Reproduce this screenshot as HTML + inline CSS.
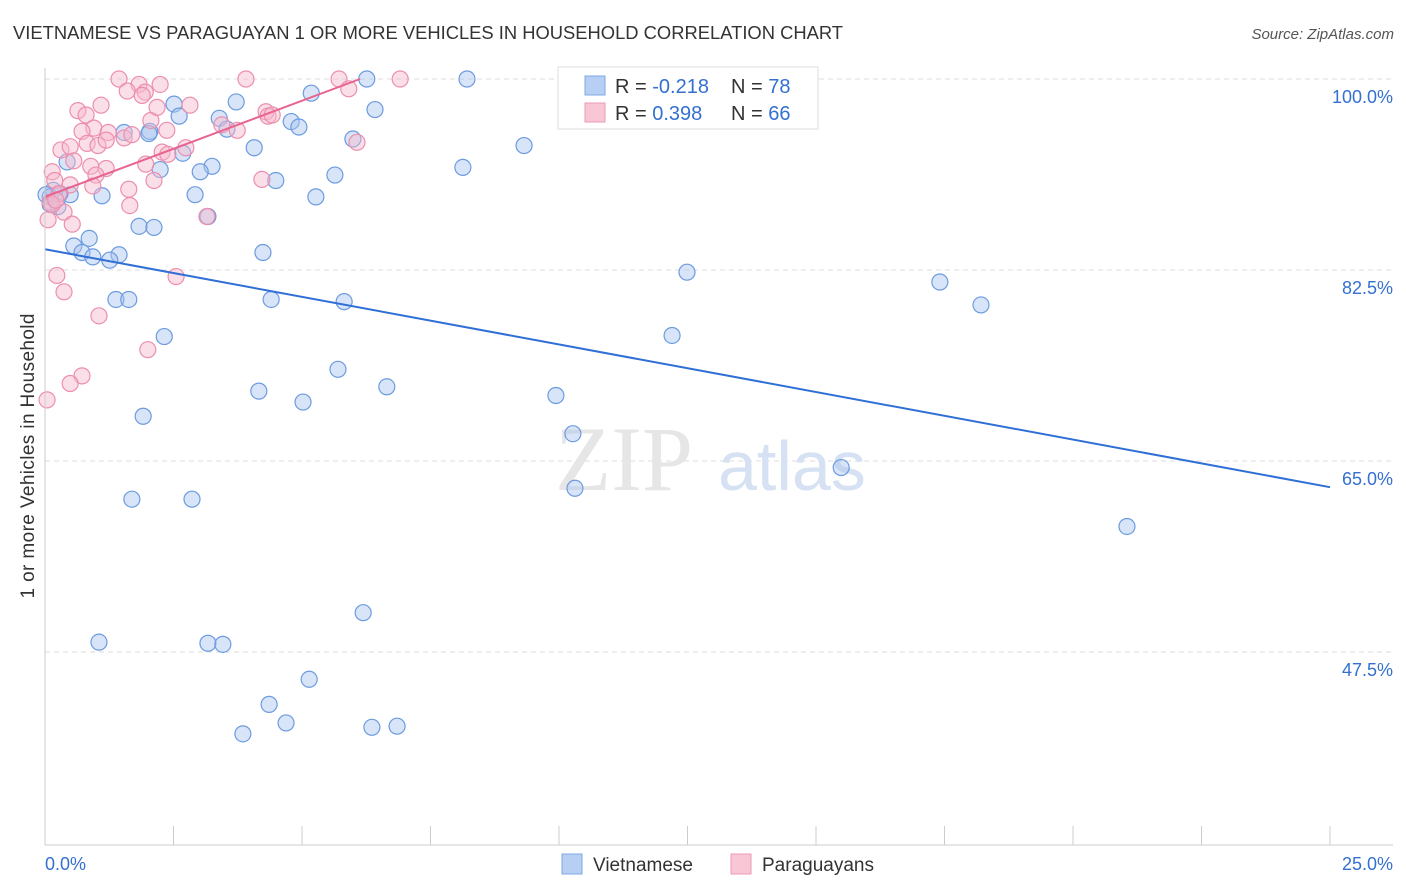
<!DOCTYPE html>
<html><head><meta charset="utf-8"><style>
body{margin:0;background:#fff;font-family:"Liberation Sans",sans-serif;}
svg{display:block}
</style></head><body>
<svg id="chart" width="1406" height="892" xmlns="http://www.w3.org/2000/svg">
<text x="13" y="39" font-size="18" fill="#333" textLength="830" lengthAdjust="spacingAndGlyphs">VIETNAMESE VS PARAGUAYAN 1 OR MORE VEHICLES IN HOUSEHOLD CORRELATION CHART</text>
<text x="1394" y="39" font-size="15" fill="#555" text-anchor="end" font-style="italic">Source: ZipAtlas.com</text>
<g id="grid"></g>
<text x="555" y="490" font-size="92" fill="#e6e6e6" font-family="Liberation Serif">ZIP</text>
<text x="718" y="490" font-size="70" fill="#d6e2f3">atlas</text>
<g id="points"></g>
<g id="lines"></g>
<g id="axes"></g>
<text transform="translate(34,456) rotate(-90)" font-size="19" fill="#333" text-anchor="middle" textLength="285">1 or more Vehicles in Household</text>
<g>
<rect x="558" y="67" width="260" height="62" fill="#fff" stroke="#ddd"/>
<rect x="585" y="76" width="20" height="19" fill="#b7cff3" stroke="#7fa7e6"/>
<rect x="585" y="103" width="20" height="19" fill="#f9c6d5" stroke="#ec9ab5"/>
<text x="615" y="93" font-size="20" fill="#333">R = <tspan fill="#3570d0">-0.218</tspan></text>
<text x="731" y="93" font-size="20" fill="#333">N = <tspan fill="#3570d0">78</tspan></text>
<text x="615" y="120" font-size="20" fill="#333">R = <tspan fill="#3570d0"> 0.398</tspan></text>
<text x="731" y="120" font-size="20" fill="#333">N = <tspan fill="#3570d0">66</tspan></text>
</g>
<g>
<rect x="562" y="854" width="20" height="20" fill="#b7cff3" stroke="#7fa7e6"/>
<text x="593" y="871" font-size="19" fill="#333">Vietnamese</text>
<rect x="731" y="854" width="20" height="20" fill="#f9c6d5" stroke="#ec9ab5"/>
<text x="762" y="871" font-size="19" fill="#333">Paraguayans</text>
</g>
</svg>
<script>
const yTicks=[100,82.5,65,47.5];
const yTickLabels=["100.0%","82.5%","65.0%","47.5%"];
const xTickLabels=["0.0%","25.0%"];
const blueX=[6.26,8.21,5.18,3.72,2.51,2.61,6.42,3.39,4.79,4.94,3.54,1.54,2.04,2.02,4.07,5.99,9.32,2.68,0.43,3.25,2.24,3.02,8.13,4.49,5.64,2.92,5.27,1.11,0.49,0.16,0.10,0.25,3.17,1.83,2.12,0.86,0.56,0.72,0.93,1.44,1.26,4.24,12.49,17.41,18.21,1.38,1.63,4.40,5.82,2.32,12.20,5.70,6.65,4.16,9.94,5.02,1.91,10.27,15.49,1.69,2.86,10.31,21.05,6.19,1.05,3.17,3.46,5.14,4.36,4.69,6.36,6.85,3.85,0.02,0.29,0.10];
const blueY=[100,100,98.7,97.9,97.7,96.6,97.2,96.4,96.1,95.6,95.4,95.1,95.2,95.0,93.7,94.5,93.9,93.2,92.4,92.0,91.7,91.5,91.9,90.7,91.2,89.4,89.2,89.3,89.4,89.8,89.2,88.3,87.4,86.5,86.4,85.4,84.7,84.1,83.7,83.9,83.4,84.1,82.3,81.4,79.3,79.8,79.8,79.8,79.6,76.4,76.5,73.4,71.8,71.4,71.0,70.4,69.1,67.5,64.4,61.5,61.5,62.5,59.0,51.1,48.4,48.3,48.2,45.0,42.7,41.0,40.6,40.7,40.0,89.4,89.5,88.5];
const pinkX=[1.44,3.91,5.72,6.91,2.24,1.83,1.60,1.95,5.91,1.89,1.09,2.82,0.64,4.30,4.34,0.80,3.44,2.06,0.95,0.72,1.23,2.37,1.54,0.82,1.03,6.07,0.31,0.49,2.28,2.39,0.56,0.89,1.96,1.19,0.14,0.99,0.19,0.49,0.93,1.63,4.22,2.12,0.27,0.10,0.37,1.65,0.06,0.53,3.15,0.23,0.37,1.05,2.00,2.55,0.72,0.49,0.04,0.14,0.21,4.42,3.74,1.69,1.19,2.74,2.18];
const pinkY=[100,100,100,100,99.5,99.5,98.9,98.8,99.1,98.5,97.6,97.6,97.1,97.0,96.6,96.7,95.8,96.2,95.5,95.2,95.1,95.3,94.6,94.1,93.9,94.2,93.5,93.8,93.3,93.1,92.5,92.0,92.2,91.8,91.5,91.2,90.7,90.3,90.2,89.9,90.8,90.7,89.5,88.7,87.8,88.4,87.1,86.7,87.4,82.0,80.5,78.3,75.2,81.9,72.8,72.1,70.6,88.5,88.9,96.7,95.3,94.9,94.4,93.7,97.4];
const blueLine=[[0,84.4],[25,62.6]];
const pinkLine=[[0,89.2],[6.13,100]];
const NS="http://www.w3.org/2000/svg";
const sx=v=>45+v*51.4, sy=v=>79+(100-v)*10.914;
function mk(t,a,p){const e=document.createElementNS(NS,t);for(const k in a)e.setAttribute(k,a[k]);document.getElementById(p).appendChild(e);return e;}
yTicks.forEach((t,i)=>{
 const l=mk('line',{x1:45,x2:1393,y1:sy(t),y2:sy(t),stroke:'#ddd','stroke-dasharray':'5,4'},'grid');
 
 
 const tx=mk('text',{x:1393,y:sy(t)+24,'font-size':18,fill:'#3570d0','text-anchor':'end'},'axes');
 tx.textContent=yTickLabels[i];
 
 
});
mk('line',{x1:45,x2:45,y1:68,y2:845,stroke:'#ccc'},'axes');
mk('line',{x1:45,x2:1393,y1:845,y2:845,stroke:'#ccc'},'axes');
for(let i=0;i<=10;i++){const t=mk('line',{x1:sx(i*2.5),x2:sx(i*2.5),y1:826,y2:845,stroke:'#ccc'},'axes');
 
 }
[[0,'start',45],[1,'end',1393]].forEach(([i,a,x])=>{const t=mk('text',{x:x,y:870,'font-size':18,fill:'#3570d0','text-anchor':a},'axes');t.textContent=xTickLabels[i];
 
 });
function pts(X,Y,f,s,n){X.forEach((x,i)=>{const c=mk('circle',{cx:sx(x),cy:sy(Y[i]),r:8,fill:f,'fill-opacity':0.45,stroke:s,'stroke-width':1.2},'points');
 
 });}
pts(blueX,blueY,'#a9c4ee','#6c9be0','vietnamese-point');
pts(pinkX,pinkY,'#f6b8cb','#ec8fae','paraguayan-point');
const bl=mk('line',{x1:sx(blueLine[0][0]),y1:sy(blueLine[0][1]),x2:sx(blueLine[1][0]),y2:sy(blueLine[1][1]),stroke:'#2f6fd6','stroke-width':2},'lines');


const pl=mk('line',{x1:sx(pinkLine[0][0]),y1:sy(pinkLine[0][1]),x2:sx(pinkLine[1][0]),y2:sy(pinkLine[1][1]),stroke:'#e8638f','stroke-width':2},'lines');


</script>
</body></html>
